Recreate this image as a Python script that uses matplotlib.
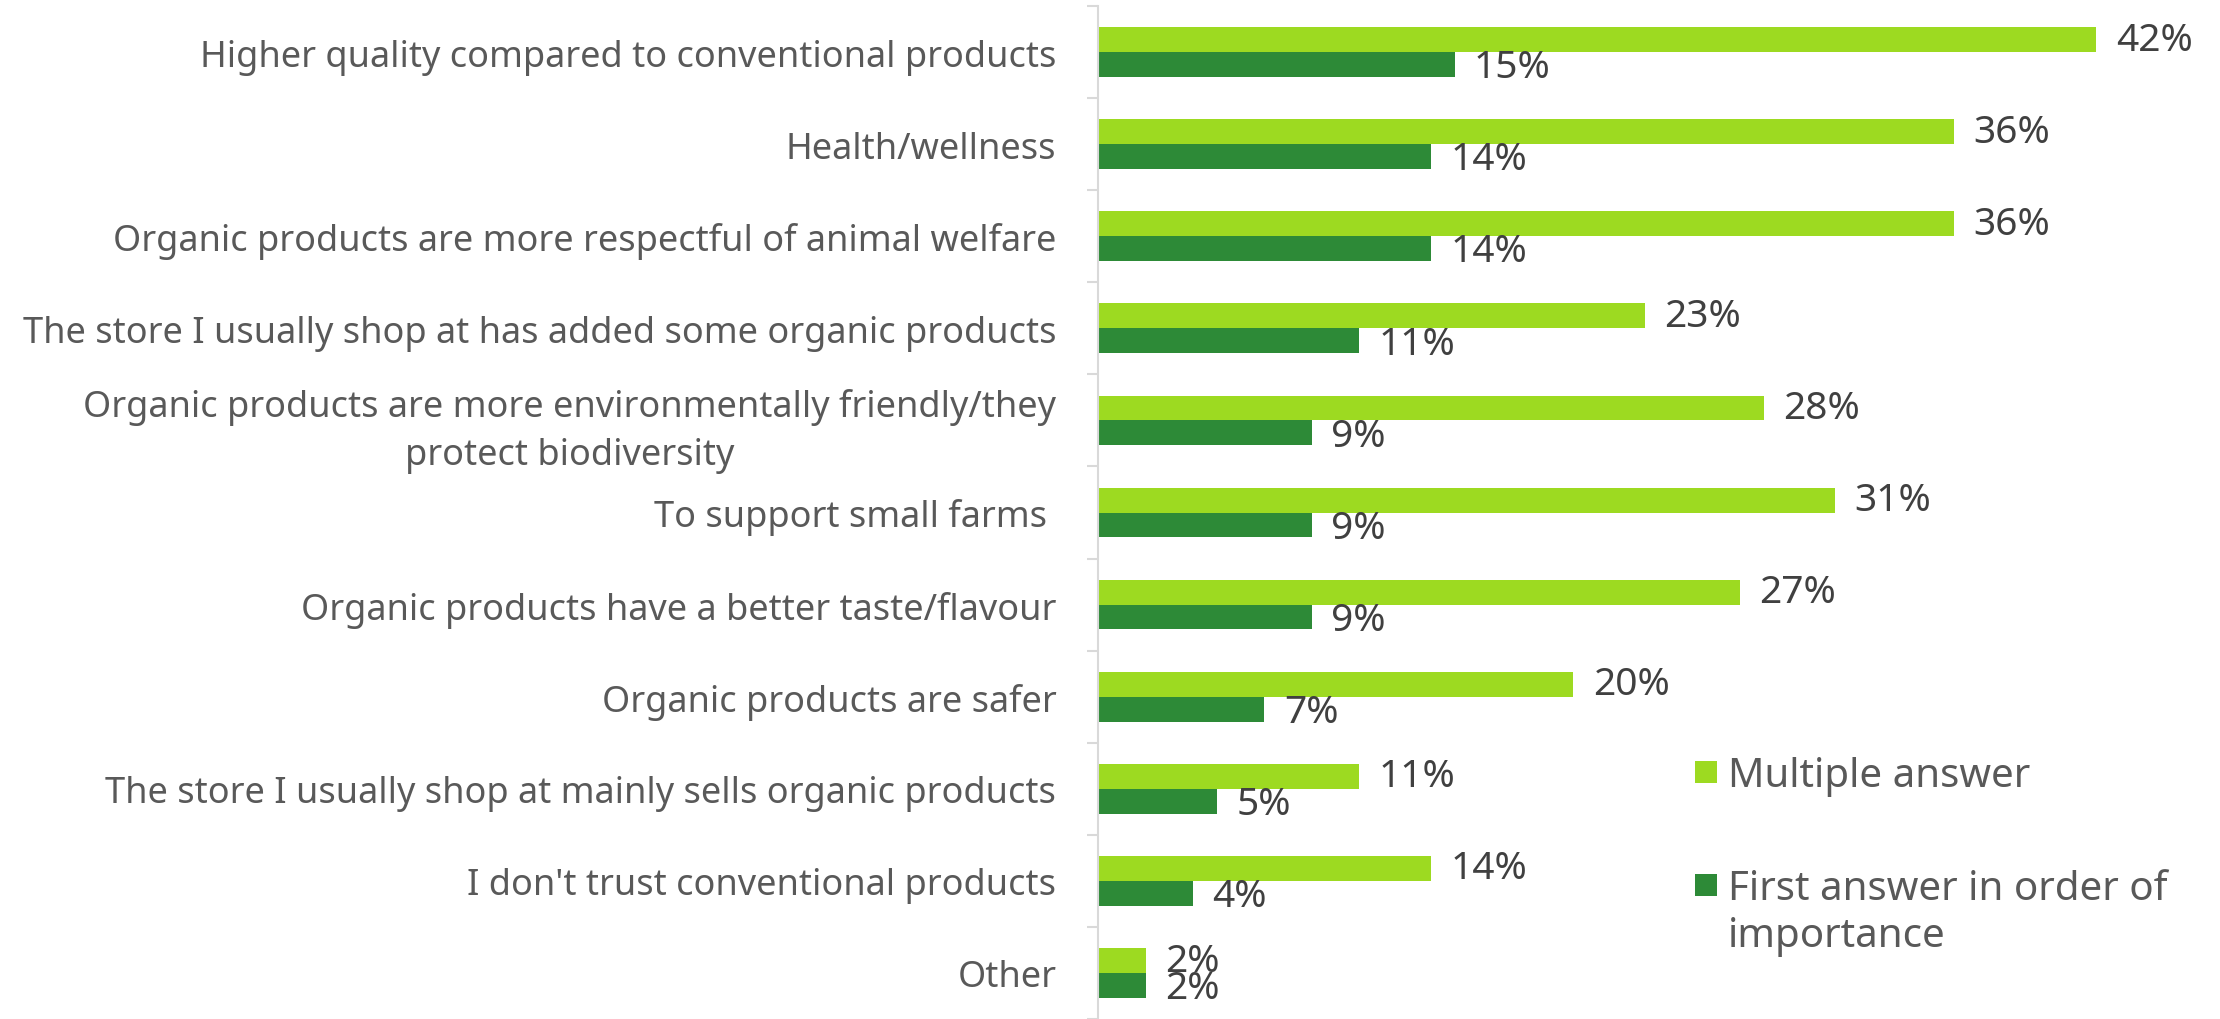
import matplotlib
matplotlib.use("Agg")
import matplotlib.pyplot as plt
from matplotlib.patches import Rectangle

categories = [
    "Higher quality compared to conventional products",
    "Health/wellness",
    "Organic products are more respectful of animal welfare",
    "The store I usually shop at has added some organic products",
    "Organic products are more environmentally friendly/they\nprotect biodiversity",
    "To support small farms ",
    "Organic products have a better taste/flavour",
    "Organic products are safer",
    "The store I usually shop at mainly sells organic products",
    "I don't trust conventional products",
    "Other",
]
multiple_answer = [42, 36, 36, 23, 28, 31, 27, 20, 11, 14, 2]
first_answer = [15, 14, 14, 11, 9, 9, 9, 7, 5, 4, 2]
series_names = ["Multiple answer", "First answer in order of\nimportance"]

LIGHT = "#9dda21"
DARK = "#2d8a37"
LABEL_GREY = "#595959"
VALUE_GREY = "#404040"
AXIS_GREY = "#d9d9d9"
FONT = "Noto Sans"

W, H = 2220, 1020
fig = plt.figure(figsize=(W / 100, H / 100), dpi=100)
ax = fig.add_axes([1098 / W, 0.0, 1 - 1098 / W, 1 - 7 / H])

n = len(categories)
pos = list(range(n))
bar_h = 0.27
light_y = [p - bar_h / 2 for p in pos]
dark_y = [p + bar_h / 2 for p in pos]

ax.barh(light_y, multiple_answer, height=bar_h, color=LIGHT, label=series_names[0])
ax.barh(dark_y, first_answer, height=bar_h, color=DARK, label=series_names[1])

for y, v in zip(light_y, multiple_answer):
    ax.annotate(f"{v}%", (v, y), xytext=(14, 0), textcoords="offset points",
                ha="left", va="center", fontsize=28, color=VALUE_GREY, family=FONT)
for y, v in zip(dark_y, first_answer):
    ax.annotate(f"{v}%", (v, y), xytext=(14, -2), textcoords="offset points",
                ha="left", va="center", fontsize=28, color=VALUE_GREY, family=FONT)

ax.set_xlim(0, 47.2)
ax.set_ylim(n - 0.5, -0.5)

# category names at bar-group centres, short grey ticks at group boundaries
ax.set_yticks(pos)
ax.set_yticklabels(categories, fontsize=26, color=LABEL_GREY, family=FONT)
ax.set_yticks([p - 0.5 for p in range(n + 1)], minor=True)
ax.tick_params(axis="y", which="major", length=0, pad=30)
ax.tick_params(axis="y", which="minor", length=8, width=1.5, color=AXIS_GREY)
for lbl in ax.get_yticklabels():
    lbl.set_multialignment("center")
    lbl.set_linespacing(1.44)

ax.xaxis.set_visible(False)
for side in ("top", "right", "bottom"):
    ax.spines[side].set_visible(False)
ax.spines["left"].set_color(AXIS_GREY)
ax.spines["left"].set_linewidth(1.5)

# legend: square swatches aligned with the first line of each label
sq = 22
legend_fs = 29
line_step = 47  # px between legend text lines
cap_half = 0.5 * 0.714 * legend_fs * 100 / 72
entries = [(LIGHT, series_names[0], 773),
           (DARK, series_names[1], 886)]
for color, text, yc in entries:
    fig.add_artist(Rectangle((1695 / W, 1 - (yc + sq / 2) / H), sq / W, sq / H,
                             transform=fig.transFigure, color=color, lw=0))
    lines = text.split("\n")
    for i, line in enumerate(lines):
        base = yc + cap_half + i * line_step
        fig.text(1728 / W, 1 - base / H, line, ha="left", va="baseline",
                 fontsize=legend_fs, color=LABEL_GREY, family=FONT)

fig.savefig("out.png", dpi=100)
